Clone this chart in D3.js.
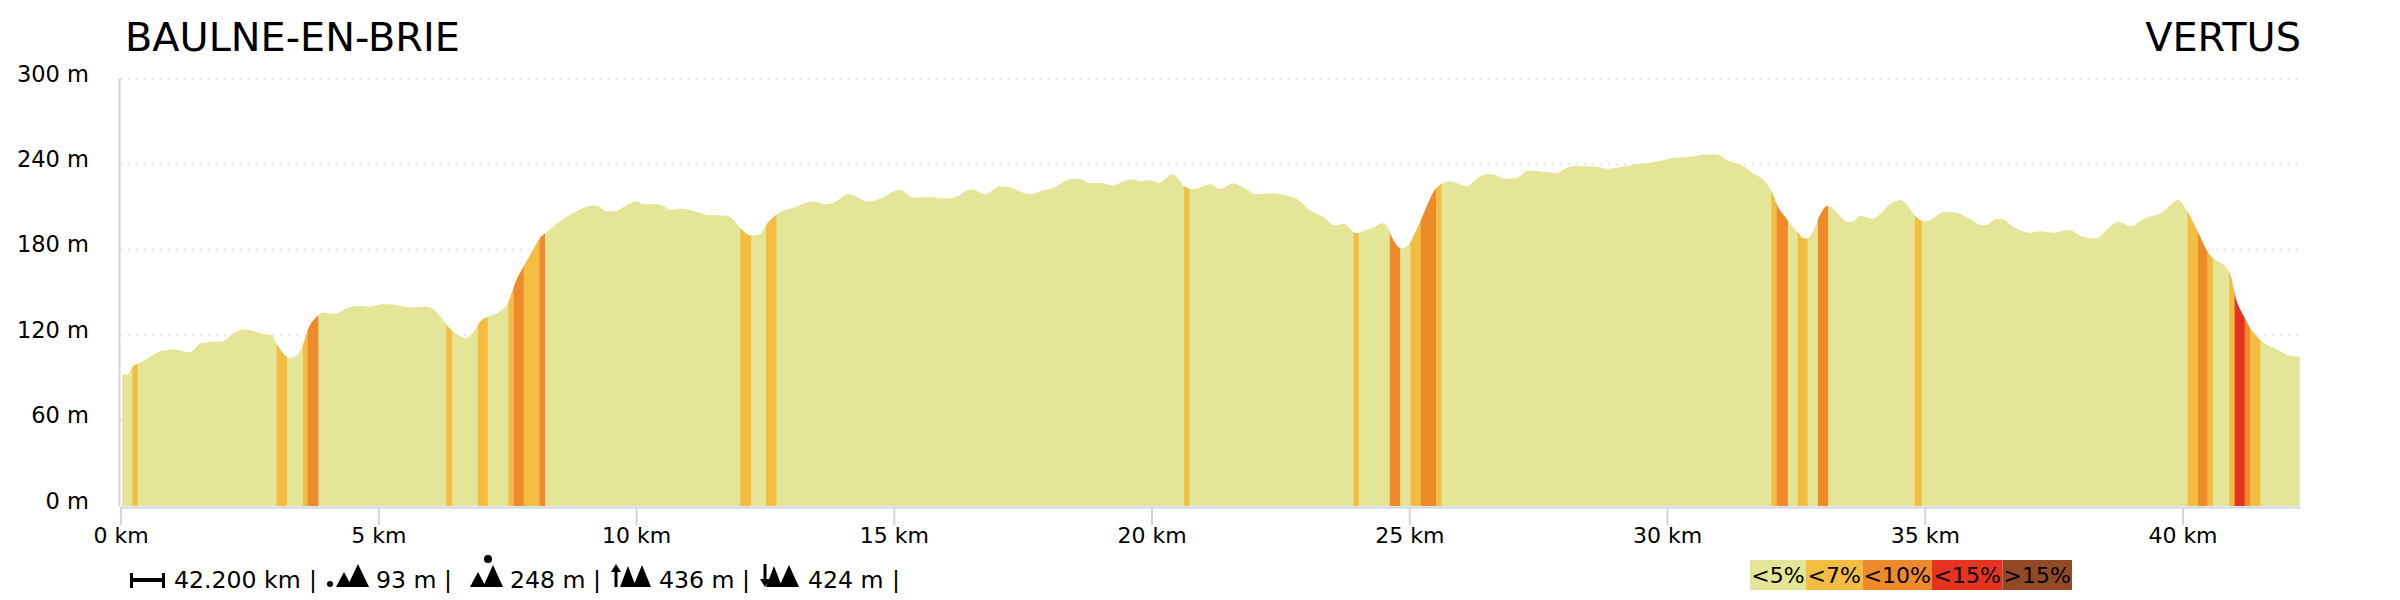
<!DOCTYPE html>
<html><head><meta charset="utf-8">
<script src="https://cdn.jsdelivr.net/npm/d3@7"></script>
<style>html,body{margin:0;padding:0;background:#fff}svg{display:block}text{font-family:"DejaVu Sans",sans-serif;fill:#000}</style>
</head><body><svg id="c" width="2400" height="600"></svg>
<script>
const kmValues=[.03,.13,.23,.34,.54,.80,1.05,1.34,1.54,1.70,1.96,2.22,2.41,2.76,2.93,3.02,3.18,3.28,3.41,3.53,3.63,3.80,3.93,4.15,4.38,4.60,4.80,5.09,5.28,5.64,5.89,6.06,6.22,6.35,6.54,6.68,6.83,6.96,7.12,7.31,7.51,7.64,7.81,7.99,8.14,8.22,8.51,8.83,9.12,9.22,9.41,9.57,9.83,9.99,10.15,10.41,10.67,10.86,11.16,11.38,11.74,11.86,12.03,12.20,12.38,12.51,12.70,13.03,13.41,13.67,13.83,14.09,14.48,14.70,15.09,15.35,15.67,16.03,16.22,16.48,16.74,17.03,17.22,17.42,17.61,17.86,18.09,18.38,18.58,18.77,19.0,19.22,19.45,19.61,19.74,19.93,20.11,20.22,20.37,20.48,20.61,20.77,21.1,21.29,21.55,21.74,22.0,22.29,22.58,22.78,23.0,23.29,23.52,23.68,23.81,23.92,24.0,24.13,24.29,24.42,24.52,24.62,24.74,24.81,24.94,25.1,25.29,25.45,25.55,25.74,25.9,26.07,26.32,26.52,26.68,26.81,27.03,27.25,27.48,27.81,27.97,28.16,28.58,28.8,29.23,29.75,30.0,30.45,30.71,30.91,31.13,31.39,31.61,31.85,31.98,32.08,32.28,32.47,32.6,32.66,32.76,32.88,33.06,33.16,33.45,33.55,33.68,33.94,34.27,34.46,34.59,34.75,34.95,35.08,35.3,35.56,35.82,36.05,36.17,36.3,36.43,36.65,36.98,37.17,37.46,37.72,38.0,38.27,38.46,38.69,38.95,39.17,39.56,39.84,40.04,40.24,40.46,40.62,40.78,40.88,40.94,41.14,41.27,41.46,41.75,41.98,42.2];
const elevation=[93,92,98,100,104,109,110,108,114,115,115.5,122,124,121,120,114,106,104,106,113,124,133,136,135,139,140.5,140,142,141.5,139.5,140,138,132,125.5,120,118,122,129.5,133,136,143.5,156.5,168.6,180,189,191.5,200,207,211,211,207,207,212,214,212,212,208,209,206.5,204.5,204,201.5,194,190,191,198,204.7,209.5,214,212,213.5,219,214,215.7,222,216.6,217,216,218,222.5,219,224.4,224,221,219,221.6,223.7,229.5,229.8,227,227,225.3,228.6,229.5,228,229,227,229.5,233,230,224.4,222.5,226,222.7,226.7,223.7,219,219.7,218,215.7,208.7,203,197,198.5,195,191.6,192,194,196,198.6,196.7,188.8,182,181,183.4,194,210,222,225.5,228,226.6,224.8,231.4,233.2,231.9,230,230.2,235.5,235,234,237,238.9,238.4,237,239.4,242,244,245.5,246.9,246.9,242.6,239.6,234,227.9,220.4,211.5,201,192.7,188,188,191.6,202,210.7,209,199.7,199.7,204,202,212,215,212,204,199.8,201.4,206.6,206,201.4,197.2,198,201.4,201.6,196.2,192,193,192,194,189.2,188,194,199.6,196.7,201.6,206.8,215,206,191.6,176.3,171.6,168,160,149.4,131.9,123.4,116,110.3,106,105];
const bandStart=[.23,3.02,3.53,3.62,6.31,6.92,7.51,7.61,7.81,8.11,12.0,12.5,20.6,23.88,24.58,24.98,25.18,25.48,31.97,32.07,32.48,32.87,34.75,40.03,40.23,40.42,40.84,40.94,41.14,41.24];
const bandEnd=[.33,3.22,3.62,3.83,6.42,7.11,7.61,7.81,8.11,8.22,12.21,12.7,20.7,23.98,24.78,25.18,25.48,25.58,32.07,32.29,32.67,33.07,34.88,40.23,40.42,40.52,40.94,41.14,41.24,41.44];
const bandClass=[1,1,1,2,1,1,1,2,1,2,1,1,1,1,2,1,2,1,1,2,1,2,1,1,2,1,1,3,2,1];
const slopeColors=["#e4e597","#f2bd40","#ef8a2a","#e6331f","#924a26"];
const legendLabels=["<5%","<7%","<10%","<15%",">15%"];
const legendWidths=[56,56.5,69.5,70.5,69.5];
const yTicks=[0,60,120,180,240,300];
const xTicks=[0,5,10,15,20,25,30,35,40];
const startName="BAULNE-EN-BRIE", endName="VERTUS";
const statDistance="42.200 km", statMin="93 m", statMax="248 m", statUp="436 m", statDown="424 m";

const svg=d3.select("#c");
const x=d3.scaleLinear().domain([0,42.2]).range([120.6,2299.6]);
const xAxisScale=d3.scaleLinear().domain([0,42.28]).range([120.6,2300]);
const y=d3.scaleLinear().domain([0,300]).range([506,79]);
const axisCol="#ccd6de";

// grid
svg.append("g").selectAll("line").data(yTicks.filter(d=>d>0)).join("line")
 .attr("x1",120).attr("x2",2300).attr("y1",d=>y(d)).attr("y2",d=>y(d))
 .attr("stroke","#e6e6e6").attr("stroke-width",2).attr("stroke-dasharray","2 6");

// area
const pts=kmValues.map((k,i)=>[k,elevation[i]]);
const area=d3.area().x(d=>x(d[0])).y0(y(0)).y1(d=>y(d[1])).curve(d3.curveMonotoneX);
svg.append("clipPath").attr("id","prof").append("path").attr("d",area(pts));
svg.append("path").attr("d",area(pts)).attr("fill",slopeColors[0]);
svg.append("g").attr("clip-path","url(#prof)").selectAll("rect").data(bandStart).join("rect")
 .attr("x",d=>x(d)).attr("width",(d,i)=>x(bandEnd[i])-x(d)).attr("y",y(300)).attr("height",y(0)-y(300))
 .attr("fill",(d,i)=>slopeColors[bandClass[i]]);

// y axis
const yAxis=d3.axisLeft(y).tickValues(yTicks).tickFormat(d=>d+" m").tickSize(0).tickPadding(0);
const gy=svg.append("g").attr("transform","translate(120,0)").call(yAxis);
gy.select(".domain").remove();
gy.selectAll("text").attr("x",-31).attr("dy",null).attr("y",2).attr("font-size",22.5).attr("text-anchor","end")
  .style("font-family",'"DejaVu Sans"');
svg.append("line").attr("x1",119.5).attr("x2",119.5).attr("y1",y(300)).attr("y2",y(0)).attr("stroke",axisCol).attr("stroke-width",2);

// x axis
const xAxis=d3.axisBottom(xAxisScale).tickValues(xTicks).tickFormat(d=>d+" km").tickSize(18).tickPadding(0).tickSizeOuter(0);
const gx=svg.append("g").attr("transform","translate(0,507)").call(xAxis);
gx.select(".domain").attr("stroke",axisCol).attr("stroke-width",2);
gx.selectAll("line").attr("stroke",axisCol).attr("stroke-width",2);
gx.selectAll("text").attr("y",36).attr("dy",null).attr("font-size",22).style("font-family",'"DejaVu Sans"');

// titles
svg.append("text").attr("x",125).attr("y",51).attr("font-size",39.8).text(startName);
svg.append("text").attr("x",2301).attr("y",51).attr("font-size",39.8).attr("text-anchor","end").text(endName);

// footer stats
const foot=svg.append("g");
const ft=(t,xx)=>foot.append("text").attr("x",xx).attr("y",588).attr("font-size",23.6).text(t);
ft(statDistance,174);ft("|",309);ft(statMin,376);ft("|",444);ft(statMax,510);ft("|",593);ft(statUp,659);ft("|",742);ft(statDown,808);ft("|",892);
const ic=foot.append("g").attr("fill","#000");
ic.append("path").attr("d","M130 573h3v15h-3zM162 573h3v15h-3zM133 578h29v4h-29z");
ic.append("circle").attr("cx",330).attr("cy",584).attr("r",3);
ic.append("path").attr("d","M336 587l8-15 8 15zM347 587l11-23 11 23z");
ic.append("path").attr("d","M470 587l8-15 8 15zM483 587l10-22 10 22z");
ic.append("circle").attr("cx",488).attr("cy",559).attr("r",4);
ic.append("path").attr("d","M620 587l8-21 8 21zM633 587l9-22 9 22zM616 564l-5 8h3.500v15h3v-15h3.500z");
ic.append("path").attr("d","M766 587l8-21 8 21zM779 587l10-22 10 22zM765 587l-5-8h3.500v-15h3v15h3.500z");

// legend
let lx=1750;
const lg=svg.append("g");
legendLabels.forEach((t,i)=>{
  lg.append("rect").attr("x",lx).attr("y",560).attr("width",legendWidths[i]).attr("height",30).attr("fill",slopeColors[i]);
  lg.append("text").attr("x",lx+legendWidths[i]/2).attr("y",583).attr("font-size",22).attr("text-anchor","middle").text(t);
  lx+=legendWidths[i];
});
</script></body></html>
